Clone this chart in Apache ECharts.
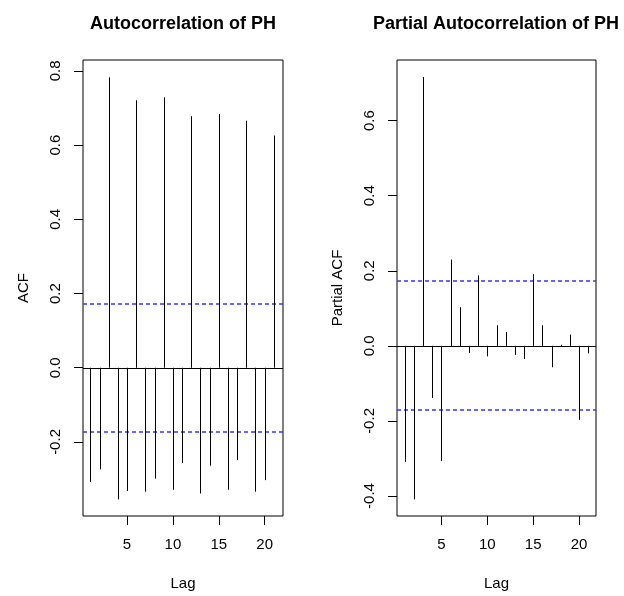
<!DOCTYPE html>
<html>
<head>
<meta charset="utf-8">
<script src="https://cdn.jsdelivr.net/npm/echarts@6/dist/echarts.min.js"></script>
<style>
html,body{margin:0;padding:0;background:#fff;}
#chart{width:624px;height:596px;}
</style>
</head>
<body>
<div id="chart"></div>
<script>
const lags = [1,2,3,4,5,6,7,8,9,10,11,12,13,14,15,16,17,18,19,20,21];
const acfValues = [-0.308,-0.274,0.783,-0.355,-0.332,0.721,-0.334,-0.299,0.729,-0.329,-0.257,0.678,-0.339,-0.264,0.684,-0.329,-0.249,0.666,-0.334,-0.303,0.626];
const pacfValues = [-0.309,-0.409,0.716,-0.139,-0.307,0.230,0.103,-0.019,0.188,-0.028,0.055,0.037,-0.024,-0.035,0.191,0.055,-0.057,0.003,0.030,-0.197,-0.020];
const ciBound = 0.172;
const acfTicks = [-0.2, 0.0, 0.2, 0.4, 0.6, 0.8];
const pacfTicks = [-0.4, -0.2, 0.0, 0.2, 0.4, 0.6];
const lagTicks = [5, 10, 15, 20];
const titles = ['Autocorrelation of PH', 'Partial Autocorrelation of PH'];
const yNames = ['ACF', 'Partial ACF'];
const xName = 'Lag';

const FONT = "'Liberation Sans', Arial, sans-serif";
const chart = echarts.init(document.getElementById('chart'), null, {renderer: 'canvas'});

function renderStem(params, api) {
  const x = api.value(0), y = api.value(1);
  const p0 = api.coord([x, 0]);
  const p1 = api.coord([x, y]);
  const px = Math.round(p0[0]) + 0.5;
  return {
    type: 'line',
    shape: {x1: px, y1: p0[1], x2: px, y2: p1[1]},
    style: {stroke: '#000', lineWidth: 1}
  };
}

function makeHLine(color, dash, width, offset) {
  return function (params, api) {
    const y = api.value(1);
    const cs = params.coordSys;
    const py = Math.round(api.coord([api.value(0), y])[1]) + offset;
    const style = {stroke: color, lineWidth: width, fill: null};
    if (dash) style.lineDash = dash;
    return {
      type: 'line',
      shape: {x1: cs.x, y1: py, x2: cs.x + cs.width, y2: py},
      style: style
    };
  };
}

const grids = [
  {left: 83, top: 60, width: 200, height: 458},
  {left: 397, top: 60, width: 199, height: 458}
];
const yRanges = [[-0.3996, 0.8295], [-0.4532, 0.7615]];
const xRanges = [[0.2, 22.0], [0.16, 21.84]];
const yTicks = [acfTicks, pacfTicks];
const values = [acfValues, pacfValues];
const titleCenters = [183, 496];

const option = {
  backgroundColor: '#fff',
  animation: false,
  title: grids.map((g, i) => ({
    text: titles[i],
    left: titleCenters[i],
    textAlign: 'center',
    top: 15,
    padding: 0,
    textStyle: {fontFamily: FONT, fontWeight: 'bold', fontSize: 18, color: '#000'}
  })),
  grid: grids.map(g => Object.assign({show: true, borderColor: '#000', borderWidth: 1, containLabel: false}, g)),
  xAxis: grids.map((g, i) => ({
    type: 'value', gridIndex: i, position: 'bottom',
    min: xRanges[i][0], max: xRanges[i][1],
    name: xName, nameLocation: 'middle', nameGap: 60,
    nameTextStyle: {fontFamily: FONT, fontSize: 15, color: '#000'},
    axisLine: {show: false, onZero: false},
    axisTick: {show: true, length: 9, inside: false, customValues: lagTicks, lineStyle: {color: '#000'}},
    axisLabel: {show: true, customValues: lagTicks, margin: 21, fontFamily: FONT, fontSize: 15, color: '#000'},
    splitLine: {show: false}
  })),
  yAxis: grids.map((g, i) => ({
    type: 'value', gridIndex: i, position: 'left',
    min: yRanges[i][0], max: yRanges[i][1],
    name: yNames[i], nameLocation: 'middle', nameGap: 52, nameRotate: 90,
    nameTextStyle: {fontFamily: FONT, fontSize: 15, color: '#000'},
    axisLine: {show: false, onZero: false},
    axisTick: {show: true, length: 9, inside: false, customValues: yTicks[i], lineStyle: {color: '#000'}},
    axisLabel: {show: true, customValues: yTicks[i], rotate: 90, margin: 20,
      formatter: v => v.toFixed(1),
      fontFamily: FONT, fontSize: 15, color: '#000'},
    splitLine: {show: false}
  })),
  series: []
};

[0, 1].forEach(i => {
  option.series.push({
    type: 'custom', xAxisIndex: i, yAxisIndex: i,
    renderItem: makeHLine('#000000', null, 1, 0.5),
    data: [[lags[0], 0]],
    encode: {x: 0, y: 1},
    itemStyle: {color: '#000000'},
    clip: true, silent: true, z: 1
  });
  option.series.push({
    type: 'custom', xAxisIndex: i, yAxisIndex: i,
    renderItem: makeHLine('#3333ff', [4, 3], 1.3, 0),
    data: [[lags[0], ciBound], [lags[0], -ciBound]],
    encode: {x: 0, y: 1},
    itemStyle: {color: '#3333ff'},
    clip: true, silent: true, z: 1
  });
  option.series.push({
    type: 'custom', xAxisIndex: i, yAxisIndex: i,
    renderItem: renderStem,
    data: lags.map((l, k) => [l, values[i][k]]),
    encode: {x: 0, y: 1},
    itemStyle: {color: '#000000'},
    clip: true, silent: true, z: 2
  });
});

chart.setOption(option);
</script>
</body>
</html>
